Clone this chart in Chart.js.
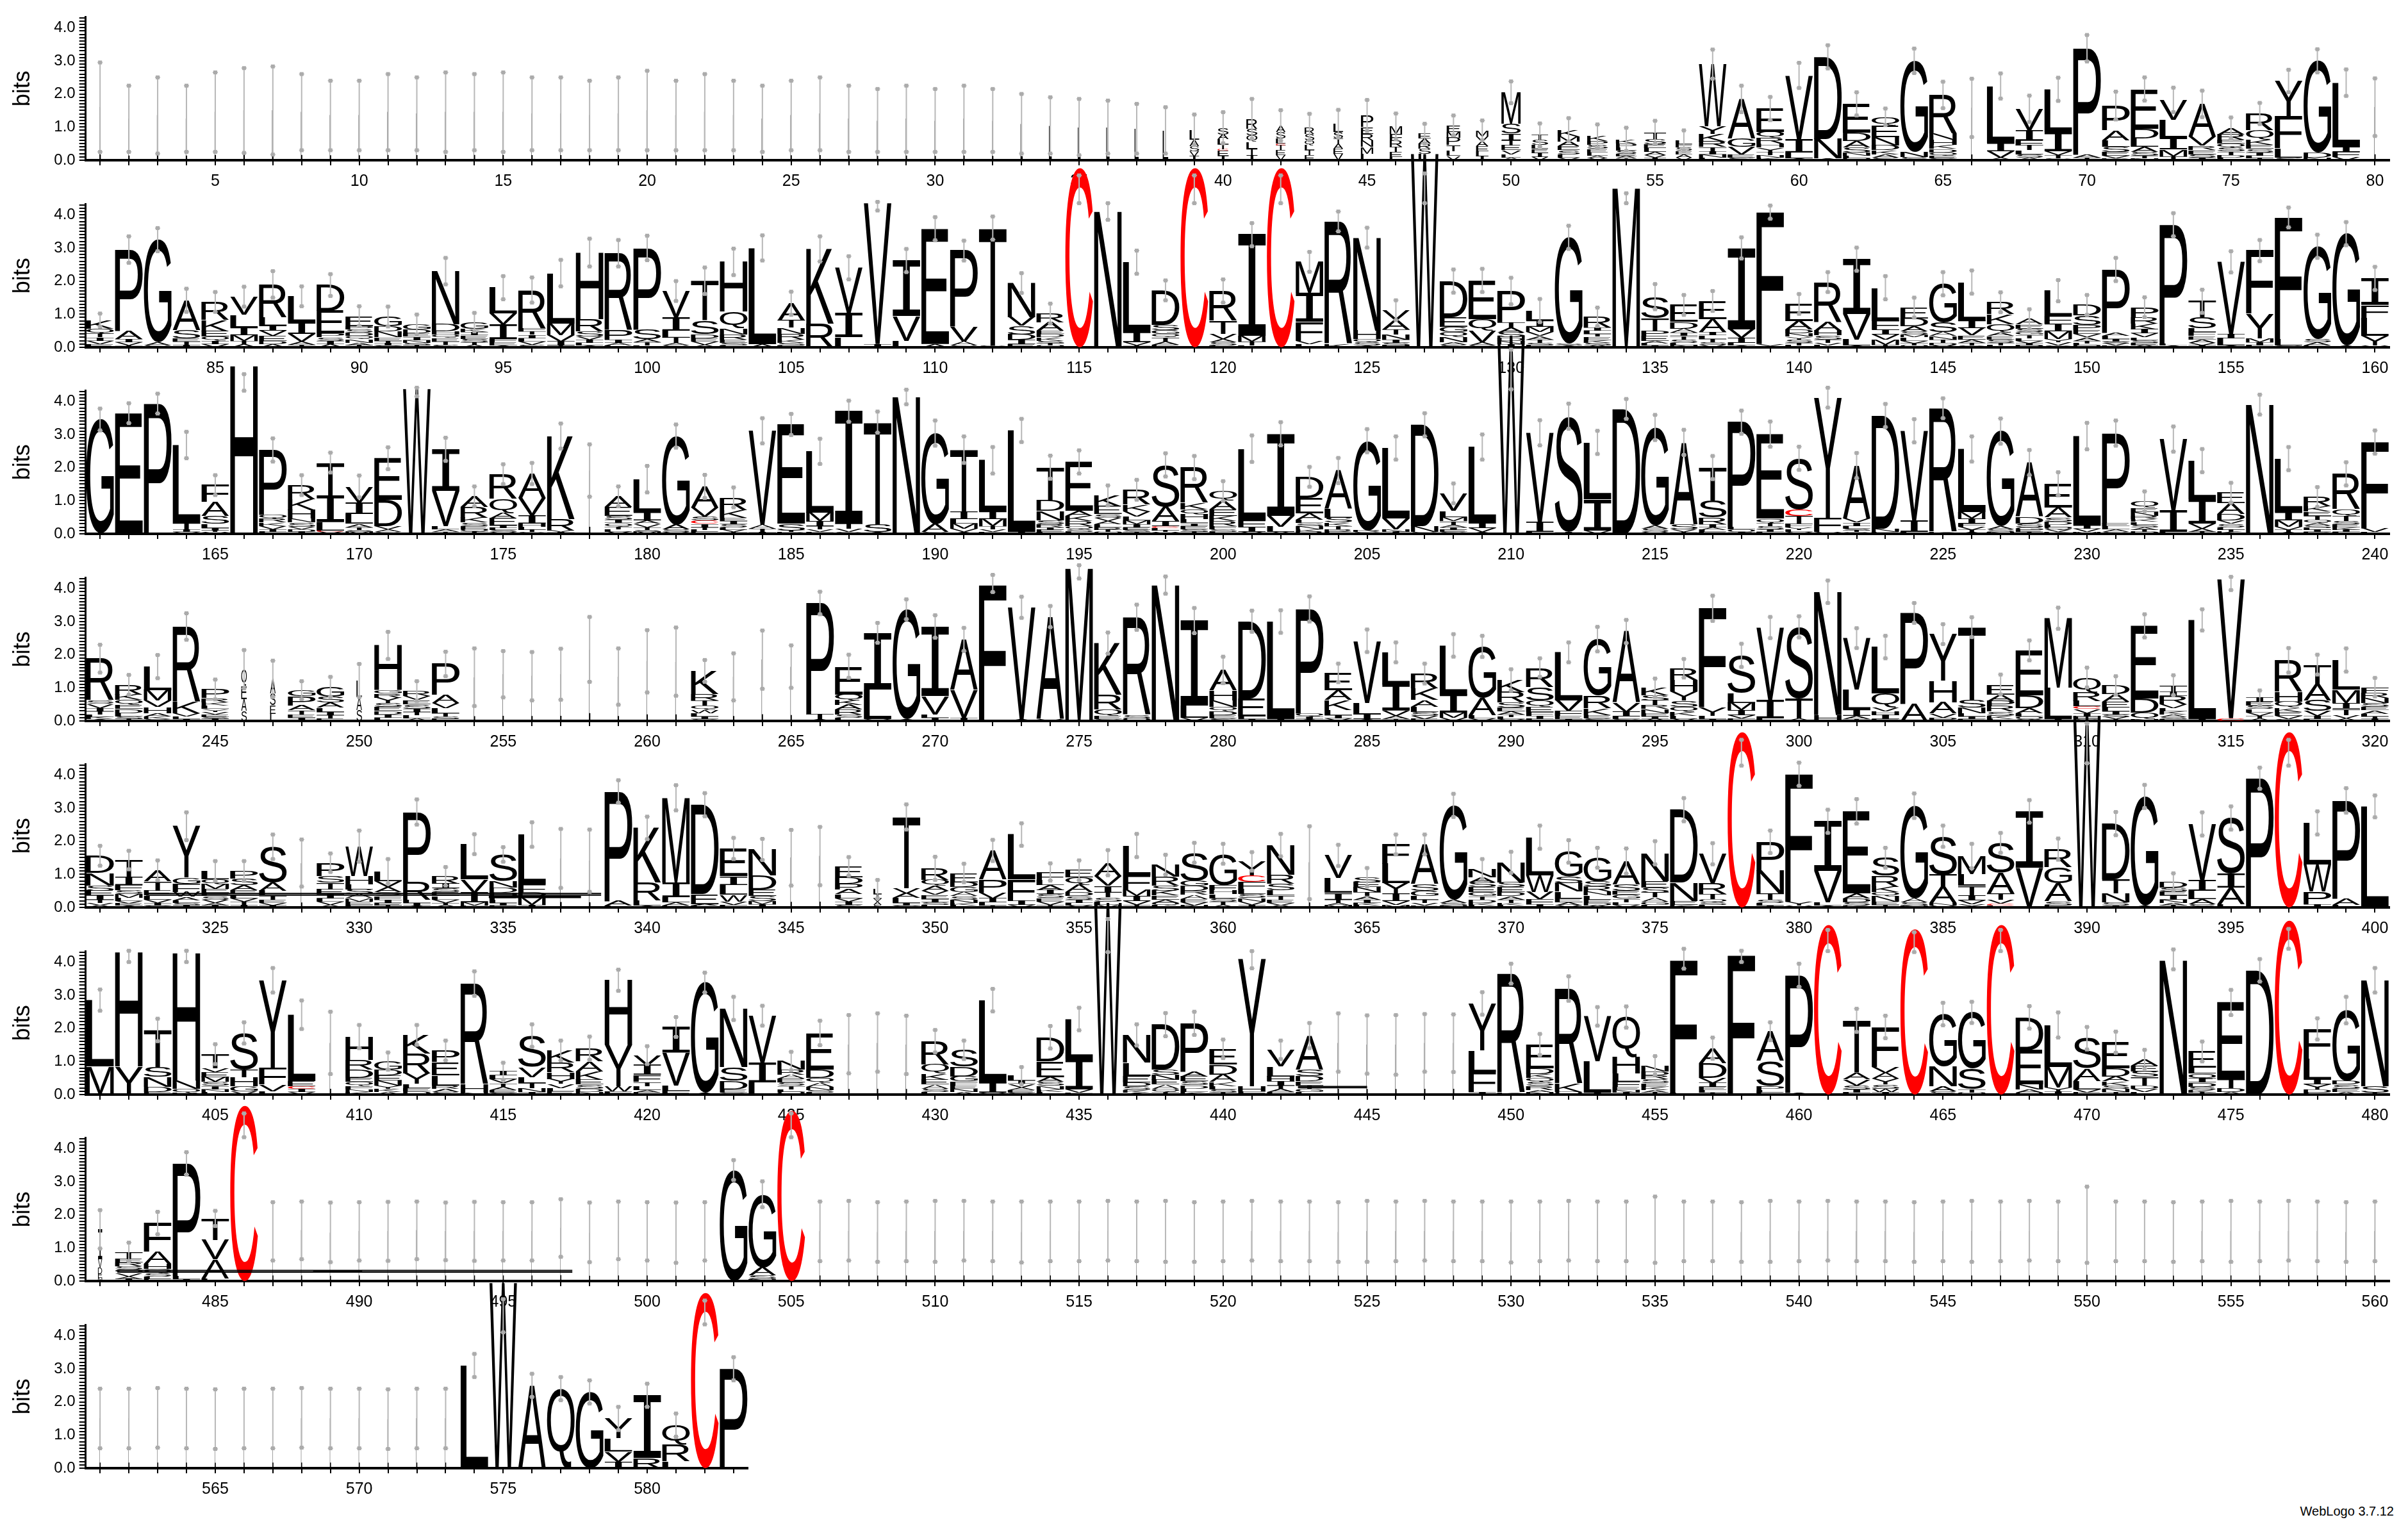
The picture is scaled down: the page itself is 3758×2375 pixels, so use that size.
<!DOCTYPE html>
<html>
<head>
<meta charset="utf-8">
<script src="https://cdn.jsdelivr.net/npm/chart.js@4"></script>
<style>
  html, body { margin: 0; padding: 0; background: #fff; }
  body { position: relative; width: 3758px; height: 2375px; overflow: hidden; }
  canvas { position: absolute; left: 0; }
  #credit { position: absolute; right: 22px; top: 2347px; font: 20px "Liberation Sans", Arial, sans-serif; color: #000; }
</style>
</head>
<body>
<div id="credit">WebLogo 3.7.12</div>
<script>
// first sequence position on each line of the logo
const rowStarts = [1, 81, 161, 241, 321, 401, 481, 561];
const yLabels = ['0.0', '1.0', '2.0', '3.0', '4.0'];

// one string per position: letters top -> bottom with height in bits,
// w = stack width fraction, e = error half width, c = error bar centre
const row1 = [
  "w.05 L1.6 e1.35", "w.05 L1.25 e1.0", "w.05 L1.35 e1.15", "w.05 L1.25 e1.0", "w.05 L1.45 e1.2",
  "w.05 L1.5 e1.28", "w.05 L1.5 e1.33", "w.05 L1.45 e1.15", "w.05 L1.35 e1.05", "w.05 L1.35 e1.05",
  "w.05 L1.45 e1.15", "w.05 L1.4 e1.1", "w.05 L1.45 e1.2", "w.05 L1.45 e1.15", "w.05 L1.45 e1.2",
  "w.05 L1.4 e1.1", "w.05 L1.4 e1.1", "w.05 L1.35 e1.05", "w.05 L1.4 e1.1", "w.05 L1.5 e1.2",
  "w.05 L1.35 e1.05", "w.05 L1.45 e1.15", "w.05 L1.35 e1.05", "w.05 L1.25 e1.0", "w.05 L1.35 e1.05",
  "w.05 L1.4 e1.1", "w.05 L1.25 e1.0", "w.05 L1.2 e0.95", "w.05 L1.25 e1.0", "w.05 L1.2 e0.95",
  "w.05 L1.25 e1.0", "w.05 L1.2 e0.95", "w.08 L1.1 e0.9", "w.1 L1.05 e0.85", "w.1 L1.0 e0.85",
  "w.12 L1.0 e0.8", "w.15 L0.95 e0.75", "w.2 L0.9 e0.7",
  "w.35 L0.3 A0.2 S0.15 V0.15 I0.12 e.46",
  "w.4 S0.2 A0.15 L0.15 T0.15 C0.05 E0.15 I0.13 e.47",
  "w.4 R0.3 S0.2 Q0.2 L0.2 T0.2 I0.15 e.6",
  "w.35 A0.2 S0.2 L0.15 C0.05 T0.15 E0.15 V0.15 e.46",
  "w.35 R0.2 S0.2 Q0.15 L0.15 T0.15 E0.15 e.4",
  "w.35 L0.25 S0.2 T0.15 A0.15 E0.15 V0.2 e.42",
  "w.45 P0.35 E0.2 R0.2 N0.2 M0.2 L0.2 e.47",
  "w.45 M0.22 F0.2 R0.2 T0.15 E0.15 L0.1 e.39",
  "w.45 E0.15 A0.15 R0.15 S0.15 L0.2 e.3",
  "w.5 E0.2 M0.17 P0.22 T0.18 L0.15 V0.13 e.3",
  "w.45 M0.18 V0.15 A0.15 E0.15 L0.15 I0.12 e.3",
  "w.7 M0.95 S0.3 I0.2 T0.15 E0.15 V0.12 L0.1 A0.08 e.33",
  "w.6 T0.15 S0.15 L0.12 E0.12 I0.12 V0.1 e.35",
  "w.8 K0.2 M0.15 A0.15 E0.12 S0.12 L0.1 V0.08 e.35",
  "w.75 K0.15 P0.12 S0.12 E0.1 L0.1 A0.08 V0.06 e.35",
  "w.75 K0.12 P0.12 L0.1 S0.1 E0.08 A0.06 T0.05 e.35",
  "w.8 T0.2 S0.15 E0.12 L0.12 A0.1 V0.08 I0.07 e.35",
  "w.6 L0.12 F0.1 S0.1 E0.1 A0.1 V0.08 e.3",
  "W1.88 Y0.23 K0.23 R0.16 T0.12 I0.1 N0.1 L0.08 e.44",
  "A1.2 G0.25 V0.22 E0.1 S0.08 e.4",
  "E0.71 Q0.18 R0.17 H0.12 Y0.12 T0.1 N0.08 K0.08 e.35",
  "V1.94 I0.39 L0.18 A0.05 e.38",
  "D2.49 N0.58 A0.05 e.35",
  "E0.87 D0.25 A0.2 S0.15 N0.1 L0.08 Q0.05 e.35",
  "Q0.26 E0.35 N0.25 D0.15 K0.12 A0.1 S0.08 e.25",
  "G2.75 N0.15 S0.1 e.37",
  "R1.16 N0.2 H0.15 K0.12 D0.1 Q0.1 E0.08 S0.06 e.4",
  "w.05 L1.58 e.88",
  "L1.71 I0.25 V0.2 A0.08 e.38",
  "V0.65 I0.3 F0.15 T0.15 L0.12 S0.1 A0.08 e.4",
  "L1.29 I0.58 V0.12 T0.1 S0.05 e.35",
  "P3.2 A0.1 T0.08 e.4",
  "P0.75 A0.3 L0.2 S0.15 E0.12 V0.08 D0.05 e.42",
  "E1.2 D0.3 L0.25 A0.15 S0.12 T0.08 N0.05 e.35",
  "V0.6 L0.55 I0.35 M0.2 T0.12 e.37",
  "A1.0 V0.26 R0.13 E0.13 S0.1 I0.08 e.4",
  "A0.19 R0.16 E0.12 Q0.12 S0.12 T0.1 D0.08 L0.08 e.32",
  "R0.5 Q0.3 K0.15 E0.12 S0.1 I0.1 L0.08 T0.06 e.32",
  "Y1.06 F0.97 L0.28 S0.08 e.34",
  "G2.77 D0.15 N0.08 e.35",
  "L1.94 I0.15 F0.15 V0.1 e.4",
  "w.05 L1.6 e.87"
];

const row2 = [
  "K0.25 Q0.15 T0.12 I0.1 V0.1 E0.1 e.2",
  "P2.45 A0.25 I0.1 V0.1 T0.05 e.4",
  "G3.1 A0.1 S0.05 e.35",
  "A0.9 S0.25 E0.1 T0.1 I0.07 e.35",
  "R0.55 K0.33 E0.17 Q0.12 I0.1 V0.1 e.3",
  "V0.55 L0.38 I0.23 M0.17 T0.1 A0.1 e.3",
  "R1.0 L0.25 I0.15 V0.15 E0.15 D0.1 A0.1 e.4",
  "L0.78 I0.35 V0.23 A0.1 T0.08 e.3",
  "D0.78 E0.68 P0.12 S0.1 I0.1 A0.1 e.33",
  "E0.3 P0.1 S0.1 D0.1 Q0.1 N0.1 A0.08 T0.06 e.3",
  "G0.3 D0.15 N0.18 E0.1 T0.08 I0.06 S0.06 e.3",
  "G0.15 D0.12 E0.1 I0.1 N0.08 S0.08 T0.06 e.3",
  "N1.6 D0.22 H0.1 Q0.1 E0.1 T0.1 S0.08 e.4",
  "G0.2 K0.1 I0.1 E0.1 S0.1 T0.08 A0.08 e.28",
  "L0.78 V0.32 I0.45 F0.1 E0.1 A0.05 e.35",
  "R1.15 F0.1 T0.1 I0.1 L0.1 V0.1 S0.08 e.38",
  "L1.52 M0.35 V0.2 I0.12 T0.05 e.4",
  "H2.0 R0.38 S0.15 V0.1 I0.1 L0.08 A0.05 e.42",
  "R2.32 P0.29 I0.1 A0.08 L0.05 e.4",
  "P2.45 S0.3 A0.1 T0.1 L0.05 e.37",
  "V0.8 I0.39 L0.22 T0.16 A0.08 S0.05 e.3",
  "T1.19 S0.42 D0.12 E0.1 V0.1 A0.08 e.4",
  "H1.5 Q0.52 N0.18 R0.15 E0.1 S0.08 L0.05 e.4",
  "L2.9 A0.1 e.38",
  "A0.52 T0.22 N0.18 R0.18 K0.1 S0.08 E0.05 e.35",
  "K2.26 R0.71 e.38",
  "V1.36 I0.74 L0.3 e.35",
  "V4.26 I0.1 c4.26 e.13",
  "I1.68 V0.74 L0.2 e.35",
  "E3.48 A0.1 e.35",
  "P2.29 V0.45 A0.13 S0.05 e.3",
  "T3.55 S0.05 e.35",
  "N1.03 V0.26 S0.26 D0.16 I0.13 E0.1 e.3",
  "R0.26 A0.26 E0.1 D0.1 K0.1 S0.08 T0.06 Q0.06 e.3",
  "C5.42 c4.77 e.42",
  "N4.1 e.25",
  "L2.13 I0.29 V0.1 T0.05 e.35",
  "D1.05 S0.15 G0.12 Q0.1 T0.12 A0.1 E0.08 e.3",
  "C5.42 c4.77 e.42",
  "R0.9 T0.4 V0.15 A0.1 S0.1 L0.05 e.35",
  "I3.06 M0.17 T0.12 L0.05 e.35",
  "C5.42 c4.77 e.42",
  "M0.93 I0.88 F0.57 V0.1 L0.1 e.3",
  "R3.7 K0.1 e.3",
  "N2.8 H0.26 Q0.1 S0.1 A0.05 e.3",
  "V0.29 A0.29 T0.15 N0.15 I0.1 S0.08 H0.06 e.3",
  "W5.85 c4.8 e.45",
  "D1.09 E0.3 G0.15 Q0.15 N0.15 A0.08 S0.08 e.35",
  "E1.16 Q0.35 V0.35 A0.1 S0.06 e.35",
  "P0.95 T0.15 A0.15 S0.15 D0.1 N0.1 I0.1 e.4",
  "L0.3 I0.2 M0.15 V0.12 A0.1 T0.1 S0.08 E0.06 e.35",
  "G3.22 S0.05 A0.05 e.35",
  "R0.32 I0.1 L0.1 T0.08 E0.1 K0.08 S0.08 A0.06 e.28",
  "M4.8 c4.5 e.15",
  "S0.65 T0.39 P0.15 E0.15 A0.08 L0.06 I0.05 e.38",
  "E0.51 D0.2 A0.13 I0.1 T0.1 S0.1 L0.08 N0.06 e.3",
  "E0.55 A0.39 I0.1 L0.1 T0.1 S0.08 V0.08 e.3",
  "I2.45 V0.26 I0.16 L0.08 A0.05 e.32",
  "F3.98 Y0.1 e.2",
  "E0.51 A0.26 D0.12 N0.1 Y0.08 S0.1 T0.08 L0.06 e.3",
  "R1.2 A0.26 H0.15 S0.12 T0.1 V0.08 L0.06 e.3",
  "I1.65 V0.77 L0.19 A0.05 e.35",
  "L1.0 F0.26 I0.16 V0.15 M0.15 T0.08 e.35",
  "E0.32 D0.25 A0.15 S0.1 M0.08 L0.1 V0.08 T0.06 Q0.06 e.3",
  "G1.16 S0.3 A0.12 N0.1 T0.1 D0.08 V0.06 e.35",
  "L1.17 I0.22 V0.22 E0.12 A0.1 T0.08 S0.06 e.35",
  "R0.36 K0.3 Q0.26 A0.1 E0.1 S0.1 T0.08 L0.06 e.3",
  "A0.16 E0.13 S0.1 G0.08 T0.1 L0.08 V0.08 I0.06 D0.06 e.3",
  "L0.77 F0.23 I0.23 M0.22 Y0.1 V0.1 S0.06 e.32",
  "D0.32 S0.29 P0.15 E0.12 V0.1 A0.1 T0.08 L0.06 Q0.06 e.3",
  "P1.9 A0.1 L0.1 I0.08 S0.06 V0.06 E0.05 e.35",
  "P0.3 R0.2 K0.16 I0.13 V0.12 L0.08 S0.08 E0.08 A0.06 e.3",
  "P3.6 L0.05 A0.05 e.35",
  "T0.49 S0.32 L0.12 F0.12 E0.1 A0.1 V0.08 I0.06 e.35",
  "V2.18 I0.13 L0.22 A0.05 e.32",
  "F1.9 Y0.74 M0.12 I0.1 L0.06 e.32",
  "F3.68 L0.19 S0.05 e.3",
  "G2.8 S0.1 A0.1 E0.05 e.35",
  "G3.38 A0.05 e.35",
  "I0.81 F0.38 L0.55 Y0.29 V0.05 e.35"
];

const row3 = [
  "G3.45 e.33", "E3.64 e.3", "P3.93 e.3",
  "L2.35 T0.2 I0.08 V0.05 e.4",
  "F0.51 A0.43 S0.23 L0.12 I0.08 T0.05 V0.05 e.3",
  "H5.07 c4.57 e.25",
  "P1.95 Q0.12 R0.12 K0.1 V0.1 I0.08 L0.06 e.35",
  "R0.42 K0.33 H0.26 N0.12 S0.12 V0.08 D0.08 I0.06 e.3",
  "T1.0 I0.8 L0.25 C0.04 V0.06 e.3",
  "V0.48 I0.35 L0.3 A0.1 T0.08 S0.06 M0.06 e.33",
  "E1.25 D0.8 V0.1 A0.08 S0.05 e.33",
  "W4.38 c4.28 e.13",
  "I1.25 V1.07 L0.1 A0.08 T0.05 e.35",
  "A0.32 R0.32 K0.15 S0.1 E0.1 Q0.08 T0.06 e.3",
  "R0.75 Q0.42 A0.16 E0.22 I0.08 L0.06 S0.06 V0.05 e.3",
  "A0.74 V0.52 I0.25 H0.1 L0.1 T0.06 S0.05 e.32",
  "K2.5 R0.35 V0.05 I0.05 e.38",
  "w.05 L1.91 e.79",
  "A0.32 E0.26 S0.13 I0.1 Q0.1 T0.08 L0.08 V0.06 e.3",
  "L1.0 I0.25 A0.1 V0.1 T0.08 S0.06 M0.06 e.4",
  "G2.67 A0.15 S0.08 V0.05 e.35",
  "A0.65 V0.26 S0.12 C0.1 I0.1 T0.08 L0.06 E0.06 e.35",
  "R0.38 K0.23 E0.1 I0.1 S0.1 L0.08 V0.06 T0.05 e.3",
  "V2.84 A0.12 T0.1 I0.05 e.38",
  "E3.0 S0.2 T0.05 D0.05 e.32",
  "L1.85 M0.26 I0.15 T0.1 V0.08 F0.05 e.38",
  "I3.4 T0.15 V0.1 S0.05 e.32",
  "T3.1 S0.22 A0.05 e.32",
  "N4.13 e.22",
  "G2.75 A0.24 S0.05 e.38",
  "T1.87 I0.22 L0.15 M0.15 V0.1 A0.05 e.4",
  "L1.55 I0.22 M0.22 T0.1 V0.08 F0.05 e.4",
  "L3.07 I0.05 e.35",
  "T1.0 D0.32 N0.28 S0.12 R0.1 I0.08 E0.06 L0.05 e.35",
  "E1.48 A0.15 K0.15 R0.15 Q0.1 S0.08 L0.06 e.35",
  "K0.32 E0.25 S0.1 V0.1 A0.1 L0.1 R0.08 T0.06 Q0.05 e.3",
  "R0.45 K0.2 V0.15 L0.12 M0.12 I0.1 E0.08 S0.06 T0.05 e.3",
  "S1.26 A0.44 I0.15 C0.05 L0.08 T0.05 V0.05 e.35",
  "R1.06 K0.2 Q0.15 H0.15 L0.12 I0.08 E0.1 S0.08 T0.06 e.35",
  "Q0.29 A0.26 E0.2 K0.15 R0.15 F0.1 S0.08 L0.06 e.3",
  "L2.16 F0.2 I0.15 V0.06 e.4",
  "I2.48 V0.32 L0.16 A0.06 e.35",
  "D0.64 E0.46 A0.2 L0.1 S0.08 N0.1 K0.08 R0.06 e.3",
  "A1.16 L0.26 S0.15 K0.1 T0.1 R0.08 E0.06 e.38",
  "G2.71 R0.05 S0.05 e.35",
  "L2.12 V0.33 N0.08 I0.06 e.35",
  "D3.06 N0.18 S0.05 e.35",
  "V0.53 L0.18 M0.13 T0.13 A0.06 I0.08 E0.06 S0.05 e.3",
  "L2.29 I0.16 V0.12 A0.05 e.38",
  "W6.0 c4.96 e.6",
  "V2.7 I0.3 L0.05 e.38",
  "S3.5 I0.05 e.38",
  "L1.72 I0.94 V0.1 e.35",
  "D3.77 e.3",
  "G2.96 A0.1 S0.1 V0.05 e.38",
  "A2.48 S0.15 V0.08 T0.05 e.38",
  "T1.0 S0.51 R0.2 I0.1 A0.08 L0.06 E0.05 e.35",
  "P3.16 L0.08 Q0.08 I0.05 e.35",
  "E2.55 Q0.13 T0.1 S0.1 I0.08 L0.05 e.38",
  "S1.55 C0.2 T0.22 F0.12 Y0.08 L0.06 V0.05 e.35",
  "Y3.64 F0.42 V0.05 e.3",
  "A1.6 V0.12 I0.1 L0.08 S0.06 T0.05 G0.05 e.38",
  "D3.42 N0.1 E0.05 e.35",
  "V2.71 I0.35 L0.05 e.35",
  "R3.74 K0.05 e.3",
  "L1.9 M0.2 I0.15 F0.1 V0.1 T0.06 A0.05 e.38",
  "G2.87 A0.1 S0.08 N0.05 e.38",
  "A1.64 D0.2 S0.12 G0.08 E0.06 T0.05 e.38",
  "E0.71 A0.3 S0.13 D0.1 L0.08 Q0.08 V0.06 K0.05 e.35",
  "L2.7 I0.1 V0.1 M0.05 e.4",
  "P2.71 E0.1 L0.1 A0.08 S0.05 e.38",
  "Q0.2 E0.12 N0.12 R0.1 K0.08 L0.08 S0.08 A0.08 T0.06 D0.06 e.3",
  "V2.15 I0.65 L0.06 e.38",
  "L1.16 I0.74 V0.15 A0.1 T0.06 e.35",
  "E0.32 A0.32 D0.2 V0.1 S0.1 L0.08 T0.06 K0.06 e.3",
  "N3.9 e.3",
  "L1.61 I0.25 M0.2 V0.1 T0.06 A0.05 e.35",
  "R0.29 K0.15 E0.12 T0.12 Q0.1 A0.08 S0.08 L0.06 I0.06 D0.05 e.3",
  "R1.07 Q0.2 T0.15 S0.1 E0.1 K0.08 I0.06 L0.05 e.35",
  "F2.6 V0.12 L0.05 e.35"
];

const row4 = [
  "R1.26 S0.1 V0.13 I0.1 T0.1 L0.08 K0.06 A0.05 e.42",
  "R0.29 K0.16 Q0.16 E0.12 D0.12 L0.1 S0.08 T0.06 e.3",
  "L0.71 M0.31 V0.2 H0.18 A0.1 K0.08 S0.06 e.35",
  "R2.27 K0.35 V0.1 L0.08 I0.05 e.4",
  "P0.26 R0.13 K0.1 L0.1 Y0.08 V0.08 E0.08 S0.06 I0.06 e.3",
  "w.2 Q0.5 E0.4 A0.35 S0.31 e.58",
  "w.2 A0.45 S0.35 E0.25 L0.22 e.55",
  "G0.18 P0.28 A0.15 T0.12 E0.1 I0.1 e.27",
  "G0.3 S0.18 A0.15 L0.12 I0.1 T0.1 E0.08 e.3",
  "w.2 L0.5 A0.4 S0.32 e.5",
  "H1.35 G0.1 R0.13 Y0.16 S0.12 E0.12 D0.1 I0.1 L0.1 e.41",
  "R0.15 V0.12 E0.13 S0.13 I0.1 T0.1 L0.1 A0.07 e.3",
  "P0.93 A0.25 V0.15 L0.15 T0.1 S0.08 E0.06 e.37",
  "w.05 L1.32 e.87", "w.05 L1.41 e.7", "w.05 L1.35 e.73", "w.05 L1.41 e.77",
  "w.05 L2.16 e.98", "w.05 L1.34 e.85", "w.05 L1.8 e.94", "w.05 L1.79 e1.03",
  "K0.7 R0.2 T0.15 Q0.12 W0.1 L0.1 I0.08 S0.06 e.33",
  "w.05 L1.33 e.71", "w.05 L1.85 e.88", "w.05 L1.64 e.64",
  "P3.36 T0.15 A0.05 e.34",
  "E0.85 Q0.18 K0.14 A0.14 R0.14 S0.1 L0.1 e.35",
  "I1.71 L0.9 V0.05 e.3",
  "G3.32 A0.05 e.3",
  "I2.1 V0.55 L0.1 I0.1 e.34",
  "A1.52 V0.84 I0.1 e.35",
  "F4.1 c4.15 e.26",
  "V3.38 A0.05 e.32",
  "A3.1 V0.05 e.32",
  "M4.6 c4.5 e.2",
  "K1.55 R0.45 Q0.2 E0.1 S0.05 e.32",
  "R2.95 S0.1 Q0.08 e.38",
  "N4.1 e.26",
  "I2.57 L0.36 V0.1 e.38",
  "A0.62 H0.3 N0.2 Q0.12 D0.12 E0.1 S0.08 e.4",
  "D2.33 E0.55 L0.08 I0.05 e.32",
  "L2.95 I0.05 e.34",
  "P3.15 Q0.1 I0.08 A0.05 e.38",
  "E0.52 A0.3 K0.3 L0.15 I0.1 V0.08 e.28",
  "V1.87 L0.35 I0.15 A0.05 e.34",
  "L0.97 I0.8 V0.15 A0.1 T0.05 e.3",
  "R0.45 K0.35 A0.2 L0.15 S0.12 V0.1 E0.06 e.3",
  "L1.48 I0.55 M0.15 V0.1 e.34",
  "G1.55 A0.52 L0.1 V0.08 e.32",
  "K0.36 R0.32 S0.15 E0.12 A0.1 T0.08 L0.06 V0.05 e.32",
  "R0.58 S0.42 Q0.18 E0.15 F0.12 I0.1 L0.06 e.28",
  "L1.45 V0.32 F0.15 E0.1 I0.05 e.3",
  "G1.71 R0.38 K0.2 E0.1 S0.08 e.37",
  "A2.16 V0.26 I0.15 L0.08 S0.05 e.35",
  "K0.23 S0.15 T0.14 R0.12 N0.12 E0.1 I0.08 A0.06 e.28",
  "R0.35 H0.35 Y0.28 S0.18 Q0.15 K0.12 L0.1 V0.06 e.28",
  "F3.0 Y0.25 L0.1 I0.05 e.38",
  "S1.13 L0.3 M0.22 I0.15 V0.1 F0.08 e.35",
  "V2.19 I0.55 L0.08 e.32",
  "S2.16 T0.6 A0.08 e.32",
  "N3.72 H0.18 e.34",
  "V1.55 L0.6 I0.2 A0.1 T0.05 e.3",
  "L1.4 Q0.42 V0.12 H0.12 I0.12 E0.05 e.34",
  "P2.74 A0.52 e.3",
  "Y1.4 H0.65 A0.35 V0.12 P0.1 e.3",
  "T2.2 S0.22 N0.18 L0.1 I0.08 E0.05 e.3",
  "E0.3 A0.2 P0.16 R0.16 S0.12 K0.1 L0.06 e.3",
  "E1.35 D0.4 A0.15 L0.1 Q0.08 S0.05 e.3",
  "M2.1 L0.95 I0.05 e.32",
  "Q0.45 R0.26 L0.16 C0.08 V0.12 I0.1 E0.08 S0.06 e.3",
  "D0.26 A0.23 E0.17 L0.12 I0.1 S0.08 V0.06 T0.05 e.28",
  "E2.2 D0.42 Q0.2 N0.05 e.35",
  "T0.2 I0.12 R0.25 V0.12 L0.1 K0.1 A0.08 S0.06 E0.05 e.3",
  "L3.0 I0.05 e.32",
  "V4.2 C0.08 c4.15 e.2",
  "I0.12 E0.12 S0.1 L0.1 V0.1 T0.08 A0.08 e.22",
  "R0.95 H0.3 Q0.18 K0.12 E0.12 V0.1 S0.06 e.37",
  "T0.58 A0.5 S0.32 V0.15 I0.1 L0.05 e.3",
  "L0.9 M0.4 I0.18 T0.18 V0.1 A0.08 e.35",
  "F0.18 R0.15 N0.15 S0.12 E0.1 A0.1 L0.08 T0.08 I0.06 e.28"
];

const row5 = [
  "D0.52 N0.38 S0.15 E0.15 I0.12 T0.1 V0.08 A0.06 e.3",
  "T0.5 I0.25 F0.15 S0.12 M0.12 L0.1 V0.08 E0.06 A0.05 e.28",
  "A0.33 T0.28 E0.15 L0.12 V0.1 I0.08 S0.06 e.3",
  "Y1.55 G0.18 F0.25 W0.15 A0.1 L0.08 S0.08 I0.06 e.42",
  "L0.24 Q0.15 M0.15 E0.12 F0.1 S0.1 V0.1 A0.08 I0.06 e.3",
  "P0.23 S0.2 A0.15 E0.12 L0.12 V0.1 T0.1 I0.08 e.3",
  "S1.07 A0.25 L0.15 T0.12 E0.1 V0.08 I0.06 e.37",
  "w.05 L1.34 e.71",
  "P0.4 S0.2 T0.2 E0.15 I0.12 L0.1 V0.1 A0.08 e.28",
  "W0.9 H0.25 L0.15 S0.15 A0.12 M0.1 E0.1 F0.08 e.47",
  "L0.3 V0.18 A0.15 S0.12 F0.1 I0.1 E0.08 T0.06 e.37",
  "P2.1 R0.55 L0.1 I0.08 A0.05 e.38",
  "R0.22 I0.14 S0.12 E0.12 L0.1 V0.1 T0.08 A0.06 e.28",
  "L1.06 V0.4 I0.3 M0.1 F0.05 e.3",
  "S0.8 N0.2 D0.15 H0.12 F0.1 L0.1 I0.08 E0.05 e.22",
  "L1.5 F0.25 D0.15 M0.22 I0.08 e.37",
  "w.06 L1.48 e.89", "w.06 L1.41 e.94",
  "P3.3 A0.15 L0.05 e.34",
  "K1.65 R0.55 L0.15 A0.05 e.34",
  "M2.56 I0.45 L0.15 A0.1 E0.05 e.38",
  "D2.7 E0.3 A0.05 L0.05 e.35",
  "E0.84 I0.26 L0.3 W0.2 V0.1 F0.08 e.32",
  "N0.78 D0.42 E0.2 S0.15 M0.1 I0.1 e.32",
  "w.05 L1.5 e.84", "w.05 L1.55 e.88",
  "E0.33 D0.2 P0.16 A0.15 L0.12 V0.1 I0.1 S0.08 e.28",
  "w.3 L0.15 I0.12 V0.1 A0.1 S0.08 e.28",
  "T2.15 V0.15 A0.15 L0.15 I0.08 S0.05 e.38",
  "R0.35 Q0.18 A0.15 V0.12 E0.12 I0.1 S0.08 L0.08 e.35",
  "E0.28 D0.15 G0.15 A0.12 S0.1 N0.1 K0.08 L0.06 e.28",
  "A0.87 P0.4 V0.18 I0.12 L0.1 T0.05 e.32",
  "L1.35 F0.65 I0.12 V0.08 e.34",
  "F0.25 L0.15 A0.15 I0.12 S0.12 E0.1 V0.1 T0.08 e.26",
  "E0.22 Q0.22 A0.22 D0.12 S0.1 I0.1 L0.08 V0.06 e.3",
  "A0.4 V0.3 I0.2 T0.15 S0.12 L0.1 M0.08 e.38",
  "L0.9 F0.42 M0.2 I0.15 V0.12 T0.08 e.35",
  "N0.36 R0.27 S0.15 K0.15 E0.12 A0.1 Q0.08 L0.06 e.3",
  "S0.85 G0.15 D0.15 R0.12 A0.12 E0.1 V0.1 N0.06 e.3",
  "G0.95 F0.15 H0.12 L0.12 S0.1 T0.1 A0.08 e.3",
  "Y0.42 C0.2 F0.22 L0.15 S0.12 N0.1 V0.1 I0.08 e.28",
  "N0.9 R0.27 S0.2 L0.15 T0.12 E0.1 V0.08 A0.06 e.34",
  "w.05 L1.35 e1.1",
  "V0.68 L0.45 I0.2 T0.1 A0.08 M0.06 e.32",
  "S0.15 E0.15 N0.15 T0.12 A0.1 I0.1 K0.08 L0.06 e.28",
  "F0.58 L0.58 Y0.32 I0.22 V0.12 M0.08 e.3",
  "A1.2 S0.2 G0.15 L0.12 T0.1 V0.08 E0.05 e.3",
  "G2.85 A0.1 S0.08 N0.05 e.35",
  "N0.25 A0.15 S0.15 E0.15 G0.12 T0.1 D0.1 K0.08 L0.06 e.3",
  "N0.6 S0.15 E0.15 D0.12 A0.1 T0.1 K0.08 L0.06 e.32",
  "L1.15 W0.5 V0.22 F0.15 I0.1 e.35",
  "G0.75 S0.2 N0.26 L0.2 E0.12 A0.1 V0.06 e.34",
  "G0.72 S0.15 R0.15 N0.12 L0.12 E0.1 D0.08 A0.06 e.3",
  "A0.7 S0.2 E0.12 G0.12 T0.1 L0.08 V0.08 e.38",
  "N0.85 E0.2 S0.15 T0.15 A0.12 G0.1 L0.08 e.35",
  "D2.2 N0.55 E0.12 K0.08 e.35",
  "V0.88 R0.33 T0.15 Q0.1 S0.08 L0.08 e.32",
  "C5.3 c4.67 e.39",
  "P0.87 N0.68 T0.2 S0.1 L0.08 I0.05 e.34",
  "F3.85 Y0.12 V0.05 e.35",
  "I1.5 V0.95 L0.1 A0.05 e.35",
  "E2.48 A0.15 D0.12 S0.1 K0.05 e.37",
  "S0.55 R0.33 K0.16 Q0.12 N0.16 E0.1 T0.08 e.3",
  "G2.8 A0.12 S0.1 N0.05 e.37",
  "S1.16 T0.36 A0.5 N0.08 V0.05 e.32",
  "M0.55 L0.35 T0.28 I0.15 V0.12 Y0.1 e.37",
  "S0.9 A0.62 T0.2 V0.12 C0.06 L0.05 e.3",
  "I1.7 V1.2 e.34",
  "R0.55 G0.48 A0.55 S0.12 E0.06 e.32",
  "W5.8 c4.95 e.6",
  "D1.68 T0.42 N0.28 S0.1 I0.05 e.35",
  "G3.3 A0.05 e.35",
  "D0.18 S0.12 E0.12 I0.12 N0.1 A0.08 T0.06 e.25",
  "V1.7 I0.32 L0.25 A0.15 S0.1 e.35",
  "S1.68 I0.42 A0.5 L0.1 e.35",
  "P3.9 e.32",
  "C5.3 c4.67 e.39",
  "L1.26 W0.81 P0.38 I0.1 e.35",
  "P2.95 A0.2 L0.08 e.37",
  "L3.05 e.33"
];

const row6 = [
  "L2.0 M0.85 e.32",
  "H3.45 Y0.85 c4.17 e.17",
  "T1.12 S0.3 N0.3 D0.15 E0.08 e.34",
  "H3.85 N0.25 Q0.12 D0.05 c4.17 e.17",
  "T0.42 V0.12 E0.15 M0.15 S0.12 I0.1 N0.08 L0.08 e.3",
  "S1.1 T0.23 H0.28 G0.15 V0.1 e.32",
  "Y2.65 F0.5 V0.2 L0.1 e.37",
  "L2.0 E0.15 C0.08 I0.1 V0.08 e.43",
  "w.05 L1.56 e.94",
  "H0.7 R0.3 D0.25 E0.12 Q0.12 F0.1 N0.08 K0.08 e.35",
  "G0.25 D0.18 E0.15 N0.15 Y0.1 K0.1 A0.08 e.26",
  "K0.56 R0.6 Y0.32 L0.12 E0.1 D0.1 e.3",
  "P0.35 E0.4 L0.3 R0.1 A0.1 S0.08 e.3",
  "R3.05 H0.25 N0.05 e.37",
  "I0.12 L0.12 V0.12 T0.1 A0.1 E0.08 S0.06 e.26",
  "S0.95 V0.3 L0.18 T0.15 N0.12 I0.08 e.34",
  "K0.36 R0.3 H0.2 Y0.15 V0.12 L0.1 E0.1 e.3",
  "R0.4 A0.3 K0.25 E0.15 S0.12 D0.1 N0.08 e.35",
  "H1.95 Y1.25 W0.15 F0.1 e.32",
  "V0.3 I0.3 F0.2 T0.13 L0.12 A0.08 E0.06 e.27",
  "I0.77 V1.0 L0.15 F0.12 e.3",
  "G3.33 A0.05 e.3",
  "N1.77 S0.42 D0.25 E0.1 G0.06 e.35",
  "V1.42 I0.6 L0.36 e.3",
  "N0.26 R0.15 A0.12 E0.12 S0.1 T0.1 L0.08 Q0.08 e.28",
  "E1.1 D0.25 Q0.15 A0.12 N0.1 S0.08 L0.06 e.37",
  "w.05 L1.52 e.88", "w.05 L1.57 e.88", "w.05 L1.5 e.88",
  "R0.7 Q0.28 K0.18 E0.15 A0.12 S0.1 L0.08 e.34",
  "S0.5 D0.3 G0.15 F0.12 E0.1 N0.1 A0.08 e.28",
  "L2.5 I0.3 V0.05 e.34",
  "L0.15 I0.1 V0.1 A0.08 E0.08 S0.06 e.26",
  "D0.72 E0.48 A0.15 S0.12 N0.1 K0.08 L0.08 e.34",
  "L1.2 I0.93 V0.1 F0.05 e.34",
  "W5.8 c4.8 e.5",
  "N0.84 L0.39 E0.2 D0.12 S0.12 K0.08 A0.05 e.32",
  "D1.36 S0.15 N0.15 E0.15 A0.12 Q0.1 T0.08 e.35",
  "P1.45 A0.15 E0.15 S0.12 D0.1 L0.1 K0.08 e.35",
  "E0.48 D0.3 A0.22 K0.12 L0.1 S0.1 T0.06 e.28",
  "Y3.85 H0.15 F0.1 c4.07 e.26",
  "V0.5 L0.3 H0.15 I0.12 T0.1 A0.1 F0.08 e.28",
  "A1.03 S0.2 D0.15 E0.12 T0.1 G0.1 L0.08 e.38",
  "w.05 L1.57 e.88", "w.05 L1.51 e.88", "w.05 L1.5 e.9", "w.05 L1.56 e.87", "w.05 L1.55 e.87",
  "Y1.42 L0.65 F0.6 I0.08 e.34",
  "R3.6 K0.05 e.3",
  "E0.71 D0.18 K0.12 Q0.12 S0.12 R0.12 A0.08 N0.06 e.32",
  "R2.87 K0.25 Q0.08 e.37",
  "V1.36 L0.95 I0.05 e.28",
  "Q1.2 H0.5 L0.25 F0.15 E0.1 N0.08 I0.06 e.32",
  "N0.18 D0.12 R0.12 S0.12 E0.1 K0.1 A0.08 T0.06 e.28",
  "F4.0 L0.05 c4.1 e.3",
  "A0.45 D0.45 V0.15 I0.12 E0.1 L0.08 T0.05 e.32",
  "F4.2 c4.17 e.17",
  "A0.9 S0.75 P0.12 L0.08 E0.06 e.27",
  "P3.55 A0.05 e.35",
  "C5.13 c4.65 e.32",
  "T1.58 A0.2 V0.18 S0.12 I0.1 L0.06 e.35",
  "F1.2 V0.18 A0.18 Y0.18 S0.12 W0.1 I0.08 e.34",
  "C5.0 c4.6 e.3",
  "G1.58 N0.6 A0.15 S0.1 e.34",
  "G1.7 S0.62 T0.1 Q0.06 e.32",
  "C5.13 c4.65 e.32",
  "D1.0 E1.03 N0.15 A0.1 Q0.05 e.34",
  "L1.26 M0.62 Y0.12 I0.1 e.38",
  "S0.91 A0.38 L0.25 V0.1 E0.06 e.34",
  "E0.78 D0.25 A0.15 K0.12 S0.1 N0.1 T0.08 e.32",
  "A0.2 E0.17 S0.17 T0.25 D0.1 V0.1 L0.08 e.28",
  "N4.05 c4.08 e.3",
  "E0.49 L0.18 Q0.15 I0.12 D0.12 S0.1 K0.08 T0.06 e.3",
  "E2.32 T0.26 D0.12 A0.08 e.38",
  "D3.75 e.34",
  "C5.26 c4.7 e.3",
  "F0.9 L0.62 I0.15 Y0.15 D0.1 E0.06 e.32",
  "G2.13 D0.12 S0.12 E0.1 A0.08 e.4",
  "N3.2 S0.2 T0.05 e.37"
];

const row7 = [
  "w.15 I0.9 V0.25 D0.2 E0.12 N0.09 e.58",
  "T0.2 E0.12 R0.12 S0.1 Q0.1 V0.1 A0.08 I0.06 e.28",
  "F0.86 A0.38 H0.15 Q0.12 S0.1 L0.08 E0.06 e.34",
  "P3.4 L0.1 I0.05 e.34",
  "T0.65 V0.58 A0.58 L0.08 e.23",
  "C5.3 c4.7 e.36",
  "w.04 L1.5 e.88", "w.04 L1.53 e.87", "w.04 L1.47 e.9", "w.04 L1.5 e.88",
  "w.04 L1.5 e.89", "w.04 L1.53 e.87", "w.04 L1.5 e.87", "w.04 L1.5 e.89",
  "w.04 L1.5 e.88", "w.04 L1.5 e.88", "w.04 L1.6 e.87", "w.04 L1.47 e.9",
  "w.04 L1.53 e.87", "w.04 L1.5 e.88", "w.04 L1.46 e.91", "w.04 L1.5 e.88",
  "G3.35 e.3",
  "G2.2 A0.25 S0.12 N0.05 e.39",
  "C5.15 c4.7 e.36",
  "w.04 L1.5 e.9", "w.04 L1.52 e.9", "w.04 L1.48 e.9", "w.04 L1.5 e.9", "w.04 L1.5 e.92",
  "w.04 L1.52 e.9", "w.04 L1.5 e.9", "w.04 L1.48 e.92", "w.04 L1.5 e.9", "w.04 L1.5 e.9",
  "w.04 L1.52 e.9", "w.04 L1.5 e.9", "w.04 L1.5 e.92", "w.04 L1.48 e.9", "w.04 L1.5 e.9",
  "w.04 L1.52 e.9", "w.04 L1.5 e.9", "w.04 L1.5 e.9", "w.04 L1.48 e.9", "w.04 L1.5 e.92",
  "w.04 L1.5 e.9", "w.04 L1.52 e.9", "w.04 L1.5 e.9", "w.04 L1.5 e.9", "w.04 L1.48 e.92",
  "w.04 L1.5 e.9", "w.04 L1.52 e.9", "w.04 L1.5 e.9", "w.04 L1.5 e.9", "w.04 L1.55 e1.0",
  "w.04 L1.5 e.9", "w.04 L1.5 e.9", "w.04 L1.48 e.9", "w.04 L1.5 e.92", "w.04 L1.5 e.9",
  "w.04 L1.52 e.9", "w.04 L1.5 e.9", "w.04 L1.5 e.9", "w.04 L1.48 e.9", "w.04 L1.5 e.9",
  "w.04 L1.5 e.92", "w.04 L1.5 e.9", "w.04 L1.52 e.9", "w.04 L1.5 e.9", "w.04 L1.7 e1.15",
  "w.04 L1.5 e.9", "w.04 L1.5 e.9", "w.04 L1.48 e.9", "w.04 L1.5 e.9", "w.04 L1.5 e.92",
  "w.04 L1.5 e.9", "w.04 L1.52 e.9", "w.04 L1.5 e.9", "w.04 L1.48 e.9", "w.04 L1.5 e.9"
];

const row8 = [
  "w.04 L1.5 e.9", "w.04 L1.5 e.9", "w.04 L1.52 e.9", "w.04 L1.5 e.9", "w.04 L1.48 e.9",
  "w.04 L1.5 e.9", "w.04 L1.5 e.9", "w.04 L1.52 e.9", "w.04 L1.5 e.9", "w.04 L1.5 e.9",
  "w.04 L1.48 e.9", "w.04 L1.5 e.9", "w.04 L1.5 e.9",
  "L3.1 e.35",
  "W5.6 c4.6 e.5",
  "A2.5 e.35",
  "Q2.4 e.35",
  "G2.3 e.35",
  "Y0.6 L0.4 V0.3 I0.2 e.35",
  "I1.9 R0.3 e.35",
  "Q0.6 R0.5 L0.2 e.35",
  "C5.3 c4.7 e.36",
  "P3.0 e.35"
];

const rows = [row1, row2, row3, row4, row5, row6, row7, row8];

// flattened gap glyphs that run across several positions: [line, from, to, bits]
const flatLines = [
  [4, 322.6, 338.4, 0.42], [4, 322.6, 338.4, 0.37], [4, 334.5, 337.7, 0.33], [4, 334.5, 337.7, 0.3],
  [5, 442.6, 445.0, 0.24], [5, 442.6, 445.0, 0.21],
  [6, 481.6, 497.4, 0.32], [6, 481.6, 497.4, 0.27], [6, 488.4, 490.1, 0.3]
];

const FONT = '"Liberation Sans", Arial, sans-serif';
const POS_W = 44.94;        // px per sequence position
const PLOT_LEFT = 133.7;
const BIT_PX = 51.7;        // px per bit
const YMAX = 4.32;
const FIRST_ZERO = 250.2;   // page y of the first baseline
const ROW_STEP = 291.5;
const ABOVE = 400, BELOW = 70;

function parseStack(str) {
  const s = { letters: [], w: 1, e: 0.36, c: null };
  str.trim().split(/\s+/).forEach(tok => {
    const k = tok[0], v = parseFloat(tok.slice(1));
    if (k === 'w') s.w = v;
    else if (k === 'e') s.e = v;
    else if (k === 'c') s.c = v;
    else s.letters.push({ ch: k, h: v });
  });
  s.total = s.letters.reduce((a, l) => a + l.h, 0);
  if (s.c === null) s.c = s.total;
  return s;
}

const glyphCache = {};
function glyphFont(ch) {
  return ch === 'I' ? '200px "DejaVu Sans Mono"' : '200px ' + FONT;
}
function glyphBox(ch) {
  if (!glyphCache[ch]) {
    const c = document.createElement('canvas').getContext('2d');
    c.font = glyphFont(ch);
    const m = c.measureText(ch);
    glyphCache[ch] = {
      l: m.actualBoundingBoxLeft, r: m.actualBoundingBoxRight,
      a: m.actualBoundingBoxAscent, d: m.actualBoundingBoxDescent
    };
  }
  return glyphCache[ch];
}

function drawGlyph(ctx, ch, x0, y0, w, h) {
  if (h < 0.4 || w < 0.3) return;
  const g = glyphBox(ch);
  ctx.save();
  ctx.translate(x0, y0);
  ctx.scale(w / (g.l + g.r), h / (g.a + g.d));
  ctx.font = glyphFont(ch);
  ctx.textAlign = 'left';
  ctx.textBaseline = 'alphabetic';
  ctx.fillStyle = ch === 'C' ? '#ff0000' : '#000000';
  ctx.fillText(ch, g.l, g.a);
  ctx.restore();
}

const logoPlugin = {
  id: 'logo',
  afterDatasetsDraw(chart, args, opts) {
    const { ctx, scales: { x, y } } = chart;
    const unit = x.getPixelForValue(1) - x.getPixelForValue(0);
    opts.stacks.forEach((s, i) => {
      const cx = x.getPixelForValue(opts.start + i);
      const w = unit * 0.96 * s.w;
      let base = 0;
      s.letters.slice().reverse().forEach(L => {
        const yb = y.getPixelForValue(base);
        const yt = y.getPixelForValue(base + L.h);
        drawGlyph(ctx, L.ch, cx - w / 2, yt, w, yb - yt);
        base += L.h;
      });
    });
    ctx.save();
    ctx.strokeStyle = '#000';
    ctx.lineWidth = 2;
    opts.flats.forEach(f => {
      const yy = y.getPixelForValue(f[3]);
      ctx.beginPath();
      ctx.moveTo(x.getPixelForValue(f[1]), yy);
      ctx.lineTo(x.getPixelForValue(f[2]), yy);
      ctx.stroke();
    });
    // error bars
    opts.stacks.forEach((s, i) => {
      const cx = x.getPixelForValue(opts.start + i);
      const yt = y.getPixelForValue(s.c + s.e);
      const yb = y.getPixelForValue(Math.max(0, s.c - s.e));
      ctx.strokeStyle = '#b8b8b8';
      ctx.lineWidth = 2;
      ctx.beginPath();
      ctx.moveTo(cx, yt); ctx.lineTo(cx, yb);
      ctx.moveTo(cx - 4, yt); ctx.lineTo(cx + 4, yt);
      ctx.moveTo(cx - 4, yb); ctx.lineTo(cx + 4, yb);
      ctx.stroke();
      ctx.fillStyle = '#ababab';
      ctx.fillRect(cx - 3, yt - 3, 6, 6);
      ctx.fillRect(cx - 3, yb - 3, 6, 6);
    });
    ctx.restore();
  }
};

rows.forEach((row, r) => {
  const start = rowStarts[r];
  const stacks = row.map(parseStack);
  const n = stacks.length;
  const zero = FIRST_ZERO + r * ROW_STEP;
  const cv = document.createElement('canvas');
  cv.width = 3758;
  cv.height = ABOVE + BELOW;
  cv.style.top = (zero - ABOVE) + 'px';
  document.body.appendChild(cv);

  const plotRight = PLOT_LEFT + n * POS_W;

  new Chart(cv, {
    type: 'scatter',
    data: {
      datasets: [{
        data: stacks.map((s, i) => ({ x: start + i, y: s.total })),
        pointRadius: 0,
        showLine: false
      }]
    },
    options: {
      responsive: false,
      animation: false,
      devicePixelRatio: 1,
      layout: { padding: { top: ABOVE - YMAX * BIT_PX, left: 0, right: 3758 - plotRight, bottom: 0 } },
      plugins: {
        legend: { display: false },
        tooltip: { enabled: false },
        logo: { stacks: stacks, start: start, flats: flatLines.filter(f => f[0] === r) }
      },
      scales: {
        x: {
          type: 'linear',
          min: start - 0.5,
          max: start + n - 0.5,
          afterFit: sc => { sc.height = BELOW; },
          afterBuildTicks: ax => { ax.ticks = stacks.map((s, i) => ({ value: start + i })); },
          ticks: {
            autoSkip: false,
            maxRotation: 0,
            padding: 10,
            color: '#000',
            font: { family: FONT, size: 25 },
            callback: v => (v % 5 === 0 ? String(v) : '')
          },
          grid: { drawOnChartArea: false, drawTicks: true, tickLength: 8, color: '#000', lineWidth: 2 },
          border: { display: true, color: '#000', width: 4 }
        },
        y: {
          min: 0,
          max: YMAX,
          afterFit: sc => { sc.width = PLOT_LEFT; },
          afterBuildTicks: ax => {
            const t = [];
            for (let k = 0; k <= 43; k++) t.push({ value: k / 10 });
            ax.ticks = t;
          },
          ticks: {
            autoSkip: false,
            padding: 6,
            color: '#000',
            font: { family: FONT, size: 24 },
            callback: v => {
              const k = Math.round(v);
              return Math.abs(v - k) < 1e-6 ? yLabels[k] : '';
            }
          },
          grid: { drawOnChartArea: false, drawTicks: true, tickLength: 10, color: '#000', lineWidth: 2 },
          border: { display: true, color: '#000', width: 3 },
          title: { display: true, text: 'bits', color: '#000', font: { family: FONT, size: 36 }, padding: { top: 14, bottom: 0 } }
        }
      }
    },
    plugins: [logoPlugin]
  });
});
</script>
</body>
</html>
